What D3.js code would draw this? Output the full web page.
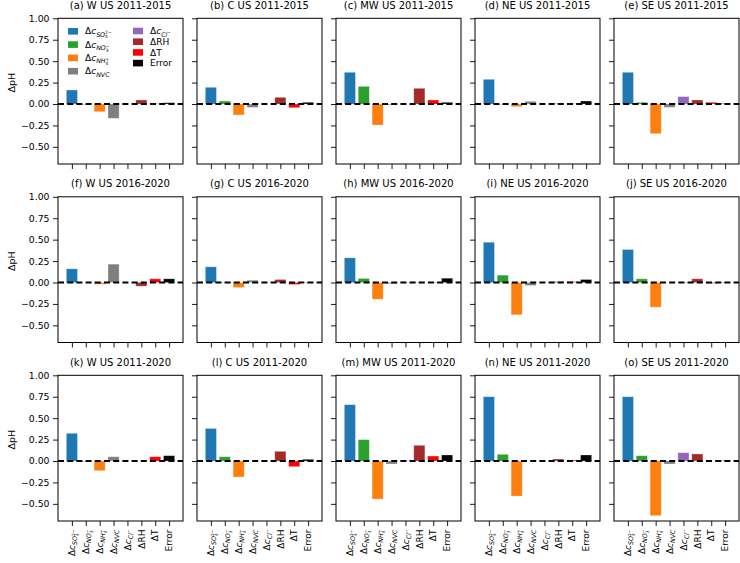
<!DOCTYPE html>
<html><head><meta charset="utf-8">
<script src="https://cdn.jsdelivr.net/npm/d3@7"></script>
<style>body{margin:0;background:#fff} text{font-family:"DejaVu Sans",sans-serif;fill:#000}</style>
</head><body><svg id="c" width="740" height="563"></svg>
<script>
// ---------------- data ----------------
const categories = ["SO4", "NO3", "NH4", "NVC", "Cl", "RH", "T", "Error"];
const categoryLabels = ["Δ$c_{SO_4^{2−}}$", "Δ$c_{NO_3^{−}}$", "Δ$c_{NH_4^{+}}$", "Δ$c_{NVC}$", "Δ$c_{Cl^{−}}$", "ΔRH", "ΔT", "Error"];
const categoryColors = ["#1f77b4", "#2ca02c", "#ff7f0e", "#7f7f7f", "#9467bd", "#a52a2a", "#ff0000", "#000000"];
const regions = ["W", "C", "MW", "NE", "SE"];
const periods = ["2011-2015", "2016-2020", "2011-2020"];
const panelLetters = ["a","b","c","d","e","f","g","h","i","j","k","l","m","n","o"];
const yTickValues = [-0.5, -0.25, 0, 0.25, 0.5, 0.75, 1.0];

const W_2011_2015  = [0.163, -0.005, -0.090, -0.167, 0.000, 0.047, 0.004, 0.015];
const C_2011_2015  = [0.195, 0.035, -0.128, -0.039, 0.000, 0.078, -0.043, 0.020];
const MW_2011_2015 = [0.370, 0.206, -0.245, -0.010, 0.000, 0.183, 0.047, 0.020];
const NE_2011_2015 = [0.288, -0.005, -0.031, 0.031, 0.000, 0.005, 0.003, 0.035];
const SE_2011_2015 = [0.370, 0.020, -0.346, -0.039, 0.086, 0.047, 0.020, 0.005];

const W_2016_2020  = [0.160, 0.000, -0.020, 0.214, 0.000, -0.043, 0.043, 0.043];
const C_2016_2020  = [0.183, 0.003, -0.058, 0.027, 0.000, 0.035, -0.023, 0.003];
const MW_2016_2020 = [0.288, 0.047, -0.195, -0.015, 0.003, 0.003, 0.005, 0.050];
const NE_2016_2020 = [0.470, 0.086, -0.377, -0.035, 0.000, 0.010, 0.010, 0.035];
const SE_2016_2020 = [0.385, 0.043, -0.288, 0.000, 0.005, 0.043, -0.010, 0.003];

const W_2011_2020  = [0.323, -0.005, -0.113, 0.050, 0.000, 0.000, 0.050, 0.062];
const C_2011_2020  = [0.380, 0.050, -0.187, 0.000, 0.000, 0.113, -0.066, 0.020];
const MW_2011_2020 = [0.657, 0.249, -0.444, -0.035, 0.005, 0.183, 0.058, 0.070];
const NE_2011_2020 = [0.750, 0.078, -0.409, 0.000, 0.000, 0.023, 0.012, 0.070];
const SE_2011_2020 = [0.750, 0.062, -0.638, -0.035, 0.097, 0.082, 0.000, 0.005];

const panelValues = [
  [W_2011_2015, C_2011_2015, MW_2011_2015, NE_2011_2015, SE_2011_2015],
  [W_2016_2020, C_2016_2020, MW_2016_2020, NE_2016_2020, SE_2016_2020],
  [W_2011_2020, C_2011_2020, MW_2011_2020, NE_2011_2020, SE_2011_2020]
];

// ---------------- mini mathtext ----------------
function parseMath(str){
  const segs = [];
  let math = false, groupId = 0;
  function push(ch, lvl, shift, gid, stackOn){
    const it = math && /[A-Za-z]/.test(ch);
    const last = segs[segs.length-1];
    if (last && last.it === it && last.lvl === lvl && last.shift === shift && last.gid === gid) last.t += ch;
    else segs.push({t: ch, it, lvl, shift, gid, stackOn: (last && last.gid === gid) ? null : stackOn});
  }
  function group(s, i, lvl, shift, stop, gid){
    let prevScript = null; // gid of immediately preceding script group
    while (i < s.length){
      const ch = s[i];
      if (ch === '$'){ math = !math; i++; continue; }
      if (stop && ch === '}') return i + 1;
      if (ch === '_' || ch === '^'){
        const sc = Math.pow(0.7, lvl);
        const ns = shift + (ch === '_' ? 0.26 * sc : -0.40 * sc);
        const myGid = ++groupId;
        const stackOn = prevScript;
        i++;
        const startLen = segs.length;
        if (s[i] === '{') i = group(s, i + 1, lvl + 1, ns, true, myGid);
        else { push(s[i], lvl + 1, ns, myGid, null); i++; }
        if (segs.length > startLen) segs[startLen].stackOn = stackOn;
        prevScript = stackOn === null ? myGid : null;
        continue;
      }
      prevScript = null;
      push(ch, lvl, shift, gid, null); i++;
    }
    return i;
  }
  group(str, 0, 0, 0, false, 0);
  return segs;
}
function renderMath(textSel, str, basePx){
  let cur = 0;
  const segs = parseMath(str);
  const nodes = [];
  segs.forEach(sg => {
    const size = basePx * Math.pow(0.7, sg.lvl);
    const dy = (sg.shift - cur) * basePx; cur = sg.shift;
    const ts = textSel.append("tspan").attr("dy", dy.toFixed(2))
      .style("font-size", size + "px")
      .style("font-style", sg.it ? "italic" : "normal")
      .text(sg.t);
    nodes.push(ts);
  });
  // stack sub/superscripts attached to the same nucleus
  segs.forEach((sg, k) => {
    if (sg.stackOn !== null && sg.stackOn !== undefined){
      let w = 0;
      segs.forEach((s2, j) => { if (s2.gid === sg.stackOn) w += nodes[j].node().getComputedTextLength(); });
      nodes[k].attr("dx", (-w).toFixed(2));
    }
  });
}

// ---------------- layout ----------------
const svg = d3.select("#c");
const colLefts = [58, 197, 336, 475, 614];
const rowTops = [18.3, 196.8, 375.3];
const pw = 125, ph = 145.7;

panelValues.forEach((row, ri) => {
  row.forEach((vals, ci) => {
    const x0 = colLefts[ci], y0 = rowTops[ri];
    const g = svg.append("g").attr("transform", `translate(${x0},${y0})`);
    const x = d3.scaleLinear().domain([-1, 8]).range([0, pw]);
    const y = d3.scaleLinear().domain([-0.7, 1.0]).range([ph, 0]);

    // bars
    g.selectAll("rect.bar").data(vals).join("rect").attr("class", "bar")
      .attr("x", (d, i) => x(i - 0.4))
      .attr("width", x(0.8) - x(0))
      .attr("y", d => y(Math.max(d, 0)))
      .attr("height", d => Math.abs(y(d) - y(0)))
      .attr("fill", (d, i) => categoryColors[i])
      .attr("stroke", "#fff").attr("stroke-opacity", 0.35).attr("stroke-width", 0.8);

    // zero dashed line
    g.append("line").attr("x1", 0).attr("x2", pw).attr("y1", y(0)).attr("y2", y(0))
      .attr("stroke", "#000").attr("stroke-width", 1.9).attr("stroke-dasharray", "6,3.2");

    // y axis
    const ya = d3.axisLeft(y).tickValues(yTickValues).tickSize(5).tickPadding(3.5)
      .tickFormat(ci === 0 ? d3.format(".2f") : () => "");
    const yg = g.append("g").call(ya);
    yg.select(".domain").remove();
    yg.selectAll("text").style("font-size", "9.3px").style("font-family", "DejaVu Sans");
    yg.selectAll("line").attr("stroke", "#000").attr("stroke-width", 0.9);

    // x axis
    const xa = d3.axisBottom(x).tickValues(d3.range(categories.length)).tickSize(5).tickFormat(() => "");
    const xg = g.append("g").attr("transform", `translate(0,${ph})`).call(xa);
    xg.select(".domain").remove();
    xg.selectAll("text").remove();
    xg.selectAll("line").attr("stroke", "#000").attr("stroke-width", 0.9);

    if (ri === 2){
      categoryLabels.forEach((lab, i) => {
        const t = g.append("text")
          .attr("transform", `translate(${x(i)},${ph + 8.5}) rotate(-90)`)
          .attr("text-anchor", "end").attr("y", 3.2)
          .style("font-size", "9px");
        renderMath(t, lab, 9);
      });
    }

    // frame
    g.append("rect").attr("x", 0).attr("y", 0).attr("width", pw).attr("height", ph)
      .attr("fill", "none").attr("stroke", "#000").attr("stroke-width", 1);

    // title
    g.append("text").attr("x", pw / 2).attr("y", -9.5).attr("text-anchor", "middle")
      .style("font-size", "10px")
      .text(`(${panelLetters[ri * 5 + ci]}) ${regions[ci]} US ${periods[ri]}`);

    // y label
    if (ci === 0){
      svg.append("text")
        .attr("transform", `translate(15,${y0 + y(0.25)}) rotate(-90)`)
        .attr("text-anchor", "middle").style("font-size", "9.5px").text("ΔpH");
    }

    // legend in first panel
    if (ri === 0 && ci === 0){
      const lg = g.append("g");
      categories.forEach((c, i) => {
        const col = i < 4 ? 0 : 1, r = i % 4;
        const px = col === 0 ? 10 : 75;
        const cy = col === 0 ? 13 + r * 13.3 : 12.7 + r * 10.7;
        lg.append("rect").attr("x", px).attr("y", cy - 3.3).attr("width", 10).attr("height", 6.6)
          .attr("fill", categoryColors[i]);
        const t = lg.append("text").attr("x", px + 17).attr("y", cy + 3.2).style("font-size", "9px");
        renderMath(t, categoryLabels[i], 9);
      });
    }
  });
});
</script></body></html>
